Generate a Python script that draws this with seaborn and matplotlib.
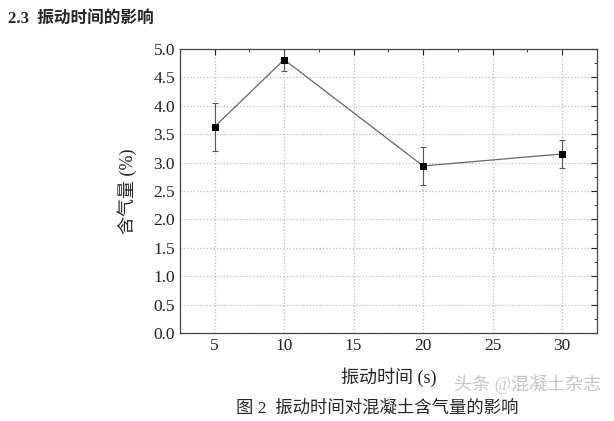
import numpy as np
import pandas as pd
import matplotlib
matplotlib.use("Agg")
import matplotlib.pyplot as plt
import seaborn as sns
from matplotlib.ticker import MultipleLocator, FormatStrFormatter

# data
vib_time = [5, 10, 20, 30]
air_content = [3.63, 4.81, 2.94, 3.15]
air_err = [0.42, 0.20, 0.33, 0.25]

df = pd.DataFrame({"t": vib_time, "air": air_content})

sns.set_style("white")
fam = ["Liberation Serif", "Noto Sans CJK SC"]
plt.rcParams["font.family"] = fam

fig = plt.figure(figsize=(6.14, 4.21), dpi=100)
ax = fig.add_axes([0.293, 0.209, 0.679, 0.675])

ax.errorbar(vib_time, air_content, yerr=air_err, fmt="none", ecolor="#555555",
            elinewidth=0.8, capsize=2.5, capthick=0.8, zorder=2)
sns.lineplot(data=df, x="t", y="air", ax=ax, color="#666666", linewidth=0.9,
             marker="s", markersize=5, markerfacecolor="black",
             markeredgecolor="black", zorder=3)

ax.set_xlim(2.5, 32.5)
ax.set_ylim(0, 5.0)
ax.xaxis.set_major_locator(MultipleLocator(5))
ax.xaxis.set_minor_locator(MultipleLocator(2.5))
ax.yaxis.set_major_locator(MultipleLocator(0.5))
ax.yaxis.set_minor_locator(MultipleLocator(0.25))
ax.yaxis.set_major_formatter(FormatStrFormatter("%.1f"))
ax.tick_params(which="both", direction="in", top=True, right=True, labelsize=12.5,
               colors="#222222")
ax.tick_params(which="major", length=4, width=0.8)
ax.tick_params(which="minor", length=2, width=0.6)
ax.grid(True, which="major", linestyle=":", color="#bbbbbb", linewidth=0.9)
for s in ax.spines.values():
    s.set_color("#444444")
    s.set_linewidth(0.9)

ax.set_xlabel("振动时间 (s)", fontsize=13, family=fam, labelpad=10)
ax.set_ylabel("含气量 (%)", fontsize=13, family=fam, labelpad=12)

fig.text(0.013, 0.955, "2.3  振动时间的影响", fontsize=12, fontweight="bold",
         family=fam, va="center")
fig.text(0.615, 0.03, "图 2  振动时间对混凝土含气量的影响", fontsize=12.5,
         family=fam, ha="center", va="center")
fig.text(0.74, 0.088, "头条 @混凝土杂志", fontsize=13, color="#c4c4c4",
         family=fam, va="center")

fig.savefig("out.png", dpi=100, facecolor="white")
